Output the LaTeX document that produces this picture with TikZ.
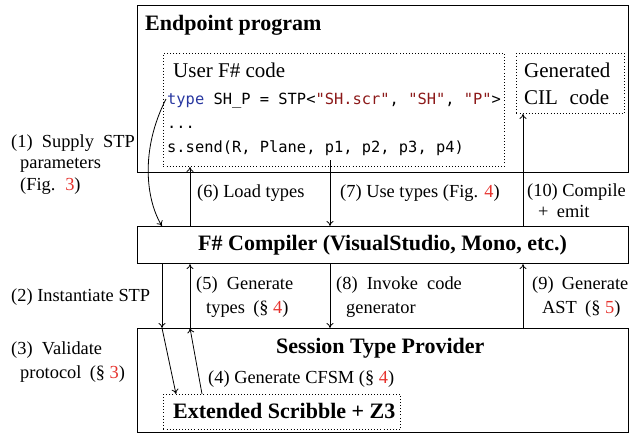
\documentclass[tikz,border=0pt]{standalone}
\usepackage{fontspec}
\setmainfont{Liberation Serif}
\setmonofont{DejaVu Sans Mono}
\usetikzlibrary{arrows.meta}
\definecolor{refred}{RGB}{230,50,45}
\definecolor{kwblue}{RGB}{40,55,160}
\definecolor{strred}{RGB}{140,25,25}
\newcommand{\rf}[1]{\textcolor{refred}{#1}}
\begin{document}
\begin{tikzpicture}[x=1pt,y=-1pt,
  box/.style={draw, line width=1.1pt, inner sep=0pt, anchor=north west},
  dbox/.style={draw, line width=0.9pt, dash pattern=on 0.9pt off 2.2pt, inner sep=0pt, anchor=north west},
  arr/.style={line width=0.8pt, -{To[length=5pt,width=7pt]}},
  lbl/.style={inner sep=0pt, anchor=base west, font=\fontsize{18.4}{22}\selectfont},
  btxt/.style={inner sep=0pt, anchor=base west, font=\fontsize{21}{25}\selectfont},
  bold/.style={inner sep=0pt, anchor=base west, font=\fontsize{22}{26}\selectfont\bfseries},
  code/.style={inner sep=0pt, anchor=base west, font=\fontsize{15.4}{18}\selectfont\ttfamily}]
\useasboundingbox (0,0) rectangle (630,434);
% boxes
\node[box, minimum width=491pt, minimum height=167pt] (ep) at (137,5) {};
\node[dbox, minimum width=341pt, minimum height=113pt] (user) at (163,53) {};
\node[dbox, minimum width=108pt, minimum height=60pt] (gen) at (516,53) {};
\node[box, minimum width=491pt, minimum height=37pt] (cmp) at (137,226) {};
\node[box, minimum width=491pt, minimum height=104pt] (stp) at (137,328) {};
\node[dbox, minimum width=237pt, minimum height=35pt] (scr) at (163,394) {};
% box texts
\node[bold] (tep) at (145,30) {Endpoint program};
\node[btxt] (tuser) at (173,77) {User F\# code};
\node[code] (l1) at (167,104) {\textcolor{kwblue}{type} SH\_P = STP<\textcolor{strred}{"SH.scr"}, \textcolor{strred}{"SH"}, \textcolor{strred}{"P"}>};
\node[code] (l2) at (167,128) {...};
\node[code] (l3) at (167,152) {s.send(R, Plane, p1, p2, p3, p4)};
\node[btxt] (tgen1) at (524,77) {Generated};
\node[btxt] (tgen2) at (524,104) {CIL\hspace{0.3em} code};
\node[bold] (tcmp) at (198,250) {F\# Compiler (VisualStudio, Mono, etc.)};
\node[bold] (tstp) at (276,353) {Session Type Provider};
\node[bold] (tscr) at (173,418) {Extended Scribble + Z3};
% labels
\node[lbl] (a1) at (11,147) {(1)\hspace{0.25em} Supply\hspace{0.25em} STP};
\node[lbl] (a1b) at (20,168) {parameters};
\node[lbl] (a1c) at (20,190) {(Fig.\hspace{0.2em} \rf{3})};
\node[lbl] (a6) at (197,197) {(6) Load types};
\node[lbl] (a7) at (340,197) {(7) Use types (Fig. \rf{4})};
\node[lbl] (a10) at (527,196) {(10) Compile};
\node[lbl] (a10b) at (538,217) {+\hspace{0.2em} emit};
\node[lbl] (a2) at (11,301) {(2) Instantiate STP};
\node[lbl] (a5) at (196,289) {(5)\hspace{0.25em} Generate};
\node[lbl] (a5b) at (206,313) {types\hspace{0.2em} (§ \rf{4})};
\node[lbl] (a8) at (336,289) {(8)\hspace{0.25em} Invoke\hspace{0.25em} code};
\node[lbl] (a8b) at (346,313) {generator};
\node[lbl] (a9) at (532,289) {(9)\hspace{0.2em} Generate};
\node[lbl] (a9b) at (542,313) {AST\hspace{0.2em} (§ \rf{5})};
\node[lbl] (a3) at (11,354) {(3)\hspace{0.25em} Validate};
\node[lbl] (a3b) at (20,378) {protocol\hspace{0.2em} (§ \rf{3})};
\node[lbl] (a4) at (208,383) {(4) Generate CFSM (§ \rf{4})};
% arrow columns
\coordinate (xa) at (162,0);
\coordinate (xb) at (190,0);
\coordinate (xc) at (330,0);
\coordinate (xd) at (523,0);
\coordinate (s1) at (166,99);
\coordinate (s7) at (330,160);
\coordinate (e3) at (176,394);
\coordinate (s4) at (202,394);
% arrows
\draw[arr] (s1) .. controls (140,150) and (146,200) .. (cmp.north -| xa);
\draw[arr] (cmp.north -| xb) -- (user.south -| xb);
\draw[arr] (s7) -- (cmp.north -| xc);
\draw[arr] (cmp.north -| xd) -- (gen.south -| xd);
\draw[arr] (cmp.south -| xa) -- (stp.north -| xa);
\draw[arr] (stp.north -| xb) -- (cmp.south -| xb);
\draw[arr] (cmp.south -| xc) -- (stp.north -| xc);
\draw[arr] (stp.north -| xd) -- (cmp.south -| xd);
\draw[arr] (stp.north -| xa) -- (e3);
\draw[arr] (s4) -- (stp.north -| xb);
\end{tikzpicture}
\end{document}
